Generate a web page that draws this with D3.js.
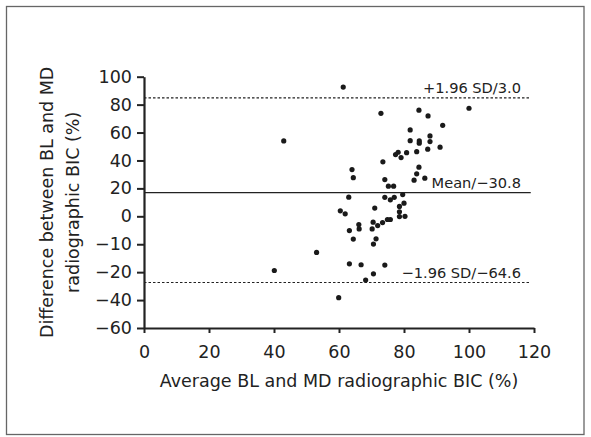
<!DOCTYPE html>
<html lang="en">
<head>
<meta charset="utf-8">
<script src="https://d3js.org/d3.v7.min.js"></script>
<title>Bland-Altman BIC</title>
<style>
  html, body { margin: 0; padding: 0; background: #fff; }
  text { font-family: "DejaVu Sans", sans-serif; fill: #222; }
</style>
</head>
<body>
<div id="plot-div"></div>
<script>
// x: average BL and MD radiographic BIC (%)
const avgBIC = [
  61.3, 43.0, 72.9, 100.0, 84.6, 87.4, 91.9, 81.9, 88.0, 81.9,
  84.7, 84.7, 88.0, 91.1, 87.3, 83.9, 80.8, 78.2, 77.4, 79.1,
  73.5, 84.6, 83.9, 83.1, 86.4, 64.0, 64.4, 74.1, 75.2, 76.8,
  63.0, 74.1, 75.8, 77.0, 79.6, 80.0, 78.6, 78.6, 78.6, 80.3,
  60.4, 61.9, 71.0, 66.1, 66.2, 70.5, 70.2, 71.9, 73.4, 74.9,
  75.8, 63.2, 64.4, 71.4, 70.6, 53.1, 40.1, 63.2, 66.8, 74.1,
  70.6, 68.2, 59.9
]
// y: difference between BL and MD (placed on the plot's linear scale)
const diffBIC = [
  92.6, 54.0, 73.8, 77.4, 76.0, 71.9, 65.2, 61.9, 57.6, 54.2,
  54.0, 52.4, 53.5, 49.5, 48.1, 46.3, 45.6, 45.9, 44.2, 42.1,
  39.0, 35.2, 30.4, 25.9, 27.3, 33.5, 27.7, 26.3, 21.6, 21.6,
  13.7, 13.6, 11.8, 13.6, 15.6, 9.4, 7.1, 3.2, -0.2, 0.0,
  3.9, 1.8, 5.9, -5.9, -9.0, -4.2, -9.0, -6.6, -4.5, -2.3,
  -2.3, -10.2, -16.3, -16.1, -19.9, -25.9, -38.8, -34.0, -34.7, -34.9,
  -41.2, -45.7, -58.3
]

const xTicks = [0, 20, 40, 60, 80, 100, 120]
const yTicks = [100, 80, 60, 40, 20, 0, -20, -40, -60, -80]
const yTickLabels = ["100", "80", "60", "40", "20", "0", "\u221210", "\u221220", "\u221240", "\u221260"]

const refValues = [84.8, 17.0, -47.4]
const refLabels = ["+1.96 SD/3.0", "Mean/\u221230.8", "\u22121.96 SD/\u221264.6"]
const refDashed = [true, false, true]

const width = 591
const height = 437

const svg = d3.select("#plot-div")
  .append("svg")
  .attr("width", width)
  .attr("height", height)

// outer frame
svg.append("rect")
  .attr("x", 6.5)
  .attr("y", 6.5)
  .attr("width", 577.5)
  .attr("height", 428)
  .attr("fill", "none")
  .attr("stroke", "#666")
  .attr("stroke-width", 1.3)

const x = d3.scaleLinear().domain([0, 120]).range([144, 534])
const y = d3.scaleLinear().domain([-80, 100]).range([328, 76.7])

// reference lines
const refs = svg.append("g")
refValues.forEach((v, i) => {
  refs.append("line")
    .attr("x1", x(0))
    .attr("x2", x(119))
    .attr("y1", y(v))
    .attr("y2", y(v))
    .attr("stroke", "#222")
    .attr("stroke-width", refDashed[i] ? 1.2 : 1.4)
    .attr("stroke-dasharray", refDashed[i] ? "2.5,2" : null)
  refs.append("text")
    .attr("x", x(116))
    .attr("y", y(v) - 4.5)
    .attr("text-anchor", "end")
    .attr("font-size", 14.6)
    .text(refLabels[i])
})

// points
svg.append("g")
  .selectAll("circle")
  .data(avgBIC)
  .join("circle")
  .attr("cx", d => x(d))
  .attr("cy", (d, i) => y(diffBIC[i]))
  .attr("r", 2.6)
  .attr("fill", "#1a1a1a")

// x axis
svg.append("g")
  .attr("transform", `translate(0,${y(-80)})`)
  .call(d3.axisBottom(x).tickValues(xTicks).tickSize(5).tickSizeOuter(0).tickPadding(13))
  .call(g => g.select(".domain").attr("stroke", "#222").attr("stroke-width", 2.2))
  .call(g => g.selectAll(".tick line").attr("stroke", "#222").attr("stroke-width", 2))
  .call(g => g.selectAll(".tick text").attr("font-size", 17.5).attr("font-family", "DejaVu Sans").attr("fill", "#222"))

// y axis
svg.append("g")
  .attr("transform", `translate(${x(0)},0)`)
  .call(d3.axisLeft(y).tickValues(yTicks).tickFormat((d, i) => yTickLabels[i]).tickSize(7).tickSizeOuter(0).tickPadding(5))
  .call(g => g.select(".domain").attr("stroke", "#222").attr("stroke-width", 2.2))
  .call(g => g.selectAll(".tick line").attr("stroke", "#222").attr("stroke-width", 2))
  .call(g => g.selectAll(".tick text").attr("font-size", 17.5).attr("font-family", "DejaVu Sans").attr("fill", "#222"))

// axis titles
svg.append("text")
  .attr("x", (x(0) + x(120)) / 2)
  .attr("y", 386.5)
  .attr("text-anchor", "middle")
  .attr("font-size", 17.5)
  .text("Average BL and MD radiographic BIC (%)")

const yTitle = svg.append("text")
  .attr("transform", `translate(0,${(y(100) + y(-80)) / 2}) rotate(-90)`)
  .attr("text-anchor", "middle")
  .attr("font-size", 17.5)
yTitle.append("tspan").attr("x", 0).attr("y", 53.3).text("Difference between BL and MD")
yTitle.append("tspan").attr("x", 0).attr("y", 78.5).text("radiographic BIC (%)")
</script>
</body>
</html>
